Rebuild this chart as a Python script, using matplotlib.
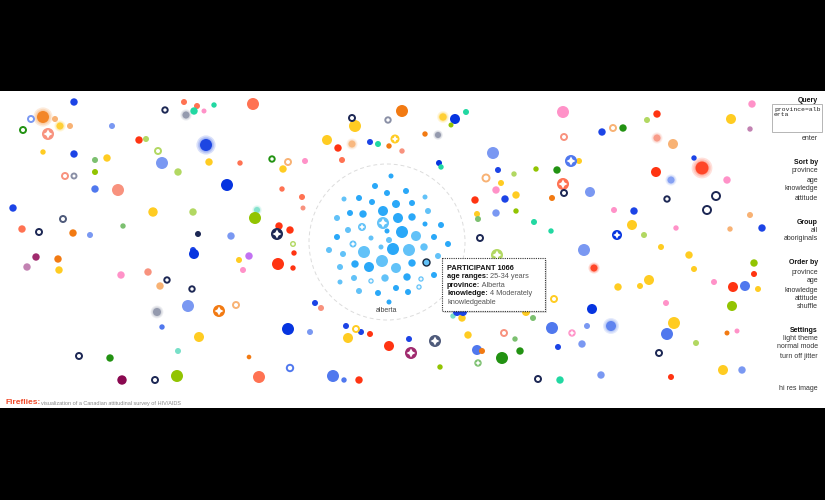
import numpy as np
import matplotlib
matplotlib.use("Agg")
import matplotlib.pyplot as plt
from matplotlib.patches import Rectangle, Circle

plt.rcParams['font.family'] = ['Liberation Sans', 'DejaVu Sans']

# palette (keys used in data below)
pal = {
    "b": "#1c44e6", "db": "#0634e0", "lb": "#7a98f2", "mb": "#5078ee",
    "nv": "#1c2754", "sl": "#4e5a7a", "r": "#ff3412", "co": "#ff7252",
    "sa": "#f8927e", "o": "#f27a12", "lo": "#f8b274", "y": "#ffcc22",
    "g": "#229212", "yg": "#92c402", "lg": "#b2d862", "mg": "#7cc070",
    "t": "#22d8a2", "lt": "#78e0c8", "p": "#ff92c8", "pu": "#a02a6e",
    "mv": "#c282b2", "vi": "#c272f2", "dp": "#8a0850", "gr": "#8a90a6",
    "cb": "#2aa8f8", "cl": "#62c2f8",
}

# plain dots: x, y (px), radius (px), colour key
dot_x = [74, 55, 70, 43, 74, 112, 95, 107, 95, 95, 118, 13, 22, 73, 90, 123, 153, 139, 146, 162,
         178, 184, 197, 194, 204, 214, 253, 209, 240, 227, 193, 255, 198, 231, 279, 290, 283, 282, 193,
         36, 27, 58, 59, 121, 148, 160, 194, 188, 162, 199, 239, 249, 243, 278, 294, 293, 288, 178,
         110, 122, 177, 249, 259,
         355, 327, 338, 342, 305, 402, 370, 378, 389, 402, 425, 455, 451, 466, 439, 441, 302, 303,
         493, 498, 514, 501, 496, 516, 505, 475, 496, 477, 478, 516, 536, 557, 579, 563, 552, 590,
         534, 551, 602, 623, 647, 657, 673, 694, 656, 727, 731, 752, 750, 614, 634, 632, 644, 676,
         730, 750, 661, 584, 762, 754, 754, 745, 758, 742,
         689, 694, 618, 640, 649, 714, 733, 666, 732, 592, 533, 526, 552, 587, 582, 558, 674, 667,
         727, 737, 696, 723, 671, 601, 560, 502, 520, 515, 477, 482, 468, 462, 453, 457, 463, 409,
         389, 440, 370, 361, 348, 346, 315, 321, 310, 333, 344, 359]
dot_y = [102, 119, 126, 152, 154, 126, 160, 158, 172, 189, 190, 208, 229, 233, 235, 226, 212, 140, 139, 163,
         172, 102, 106, 111, 111, 105, 104, 162, 163, 185, 212, 218, 234, 236, 226, 230, 169, 189, 250,
         257, 267, 259, 270, 275, 272, 286, 254, 306, 327, 337, 260, 256, 270, 264, 253, 268, 329, 351,
         358, 380, 376, 357, 377,
         126, 140, 148, 160, 161, 111, 142, 144, 146, 151, 134, 119, 125, 112, 163, 167, 197, 208,
         153, 170, 174, 183, 190, 195, 199, 200, 213, 214, 219, 211, 169, 170, 161, 112, 198, 192,
         222, 231, 132, 128, 120, 114, 144, 158, 172, 180, 119, 104, 129, 210, 211, 225, 235, 228,
         229, 215, 247, 250, 228, 263, 274, 286, 289, 370,
         255, 269, 287, 286, 280, 282, 287, 303, 306, 309, 318, 312, 328, 326, 344, 347, 323, 334,
         333, 331, 343, 370, 377, 375, 380, 358, 351, 339, 350, 351, 335, 318, 316, 312, 312, 339,
         346, 367, 334, 332, 338, 326, 303, 308, 332, 376, 380, 380]
dot_r = [3.7, 3, 3, 2.7, 3.7, 3, 3, 3.7, 3, 3.7, 6, 3.7, 3.7, 3.7, 3, 2.7, 4.7, 3.7, 3, 6,
         3.7, 3, 3, 3.7, 2.5, 2.7, 6, 3.7, 2.7, 6, 3.7, 6, 3, 3.7, 3.7, 3.7, 3.7, 2.7, 3,
         3.7, 3.7, 3.7, 3.7, 3.7, 3.7, 3.7, 5, 6, 2.7, 5, 3, 3.7, 3, 6, 2.7, 2.7, 6, 3,
         3.7, 4.7, 6, 2.3, 6,
         6, 5, 3.7, 3, 3, 6, 3, 3, 2.7, 2.7, 2.7, 5, 2.5, 3, 3, 2.7, 3, 2.5,
         6, 3, 2.7, 3, 3.7, 3.7, 3.7, 3.7, 3.7, 3, 3, 2.7, 2.7, 3.7, 3, 6, 3, 5,
         3, 2.7, 3.7, 3.7, 3, 3.7, 5, 2.7, 5, 3.7, 5, 3.7, 2.7, 3, 3.7, 5, 3, 2.7,
         2.7, 3, 3, 6, 3.7, 3.7, 3, 5, 3, 3.7,
         3.7, 3, 3.7, 3, 5, 3, 5, 3, 5, 5, 3, 4, 6, 3, 3.7, 3, 6, 6,
         2.5, 2.5, 3, 5, 3, 3.7, 3.7, 6, 3.7, 2.7, 5, 3, 3.7, 3.7, 2.7, 4, 4, 3,
         5, 2.7, 3, 3, 5, 3, 3, 3, 3, 6, 2.7, 3.7]
dot_c = ["b", "lo", "lo", "y", "b", "lb", "mg", "y", "yg", "mb", "sa", "b", "co", "o", "lb", "mg", "y", "r", "lg", "lb",
         "lg", "co", "co", "t", "p", "t", "co", "y", "co", "db", "lg", "yg", "nv", "lb", "r", "r", "y", "co", "b",
         "pu", "mv", "o", "y", "p", "sa", "lo", "db", "lb", "mb", "y", "y", "vi", "p", "r", "r", "r", "db", "lt",
         "g", "dp", "yg", "o", "co",
         "y", "y", "r", "co", "p", "o", "b", "t", "o", "sa", "o", "db", "yg", "t", "db", "t", "co", "sa",
         "lb", "b", "lg", "y", "p", "y", "b", "r", "lb", "y", "mg", "yg", "yg", "g", "y", "p", "o", "lb",
         "t", "t", "b", "g", "lg", "r", "lo", "b", "r", "p", "y", "p", "mv", "p", "b", "y", "lg", "p",
         "lo", "lo", "y", "lb", "b", "yg", "r", "mb", "y", "lb",
         "y", "y", "y", "y", "y", "p", "r", "p", "yg", "db", "mg", "y", "mb", "lb", "lb", "b", "y", "mb",
         "o", "p", "lg", "y", "r", "lb", "t", "g", "g", "mg", "mb", "o", "y", "y", "lt", "b", "b", "b",
         "r", "yg", "r", "b", "y", "b", "b", "sa", "lb", "mb", "mb", "r"]

# dots carrying a white sparkle
star_x = [48, 277, 293, 219, 395, 571, 563, 617, 497, 572, 478, 435, 411]
star_y = [134, 234, 244, 311, 139, 161, 184, 235, 255, 333, 363, 341, 353]
star_r = [6, 6, 3, 6, 4.5, 6, 6, 5, 6, 3.7, 3.7, 6, 6]
star_c = ["sa", "nv", "lg", "o", "y", "mb", "co", "db", "lg", "p", "mg", "sl", "pu"]

# small hollow rings
ring_x = [31, 23, 65, 74, 63, 39, 158, 165, 272, 288, 167, 192, 236, 79, 155, 290, 352, 388,
          486, 480, 564, 564, 613, 667, 716, 707, 554, 504, 538, 659, 356]
ring_y = [119, 130, 176, 176, 219, 232, 151, 110, 159, 162, 280, 289, 305, 356, 380, 368, 118, 120,
          178, 238, 137, 193, 128, 199, 196, 210, 299, 333, 379, 353, 329]
ring_r = [3, 3, 3, 2.5, 3, 3, 3, 2.7, 2.7, 3, 2.7, 2.7, 3, 3, 3, 3.2, 3, 2.7,
          3.5, 3, 3, 3, 3, 2.7, 4, 4, 3, 3, 3, 3, 3]
ring_c = ["lb", "g", "sa", "gr", "sl", "nv", "lg", "nv", "g", "lo", "nv", "nv", "lo", "nv", "nv", "mb", "nv", "gr",
          "lo", "nv", "sa", "nv", "lo", "nv", "nv", "nv", "y", "sa", "nv", "nv", "y"]

# blurred (glowing) dots
glow_x = [43, 60, 186, 206, 257, 157, 352, 438, 443, 657, 702, 671, 594, 611]
glow_y = [117, 126, 115, 145, 210, 312, 144, 135, 117, 138, 168, 180, 268, 326]
glow_r = [6, 3.5, 3.5, 6, 3, 4, 3.5, 3, 3.7, 3.5, 6.5, 3.5, 3.5, 5]
glow_c = ["o", "y", "gr", "db", "lt", "gr", "lo", "gr", "y", "sa", "r", "lb", "r", "mb"]

# alberta cluster
cl_x = [391, 375, 387, 406, 344, 359, 372, 396, 412, 425, 383, 428, 350, 363, 398, 412, 337, 425, 441,
        348, 402, 416, 387, 434, 337, 371, 389, 448, 424, 381, 364, 393, 409, 329, 343, 438, 355, 382,
        369, 396, 412, 340, 354, 385, 407, 434, 340, 396, 359, 378, 408, 389]
cl_y = [176, 186, 193, 191, 199, 198, 202, 204, 203, 197, 211, 211, 213, 214, 218, 217, 218, 224, 225,
        230, 232, 236, 231, 237, 237, 238, 240, 244, 247, 247, 252, 249, 250, 250, 254, 256, 264, 261,
        267, 268, 263, 267, 278, 278, 277, 275, 282, 288, 291, 293, 292, 302]
cl_r = [2.5, 3, 3, 3, 2.5, 3, 3, 4, 3, 2.5, 5, 3, 3, 3.7, 5, 3.7, 3, 2.5, 3,
        3, 6, 5, 2.5, 3, 3, 2.5, 3, 3, 3.7, 2.5, 6, 6, 6, 3, 3, 3, 3.7, 6,
        5, 5, 3.7, 3, 3, 3.7, 3.7, 3, 2.5, 3, 3, 3, 3, 2.5]
cl_c = ["cb", "cb", "cb", "cb", "cl", "cb", "cb", "cb", "cb", "cl", "cb", "cl", "cb", "cb", "cb", "cb", "cl", "cb", "cb",
        "cl", "cb", "cl", "cb", "cb", "cb", "cl", "cl", "cb", "cl", "cl", "cl", "cb", "cl", "cl", "cl", "cl", "cb", "cl",
        "cb", "cl", "cb", "cl", "cl", "cl", "cb", "cb", "cl", "cb", "cl", "cb", "cb", "cb"]
cl_star_x = [383, 362, 353, 421, 371, 419]
cl_star_y = [223, 227, 244, 279, 281, 287]
cl_star_r = [6, 4, 3.5, 2.7, 2.7, 2.7]
selected = (426, 262)

tip_lines = [("PARTICIPANT 1066", ""), ("age ranges:", " 25-34 years"), ("province:", " Alberta"),
             ("knowledge:", " 4 Moderately"), ("", "knowledgeable")]

panel = [("Query", True, 100), ("enter", False, 139),
         ("Sort by", True, 162), ("province", False, 171), ("age", False, 180), ("knowledge", False, 189), ("attitude", False, 198),
         ("Group", True, 222), ("all", False, 230), ("aboriginals", False, 239),
         ("Order by", True, 263), ("province", False, 272), ("age", False, 281), ("knowledge", False, 290),
         ("attitude", False, 298), ("shuffle", False, 307),
         ("Settings", True, 330), ("light theme", False, 339), ("normal mode", False, 347), ("turn off jitter", False, 356),
         ("hi res image", False, 389)]

W, H = 825, 500
fig = plt.figure(figsize=(W / 100, H / 100), dpi=100, facecolor="black")
ax = fig.add_axes([0, 0, 1, 1])
ax.set_xlim(0, W)
ax.set_ylim(H, 0)
ax.axis("off")
ax.add_patch(Rectangle((0, 91), W, 317, facecolor="white", edgecolor="none", zorder=0))

PT = 72 / 100  # points per pixel


def sz(r):
    return (2 * np.asarray(r, dtype=float) * PT) ** 2


def cols(keys):
    return [pal[k] for k in keys]


# glow halos
for k in [1.6, 1.35, 1.15]:
    ax.scatter(glow_x, glow_y, s=sz(np.array(glow_r) * k), c=cols(glow_c), alpha=0.15, linewidths=0, zorder=2)
ax.scatter(glow_x, glow_y, s=sz(glow_r), c=cols(glow_c), alpha=0.85, linewidths=0, zorder=3)

ax.scatter(dot_x, dot_y, s=sz(dot_r), c=cols(dot_c), linewidths=0, zorder=3)

ax.scatter(star_x, star_y, s=sz(star_r), c=cols(star_c), linewidths=0, zorder=4)
ax.scatter(star_x, star_y, s=sz(np.array(star_r) * 0.75), c="white", marker=(4, 1, 0), linewidths=0, zorder=5)

ax.scatter(ring_x, ring_y, s=sz(ring_r), c="white", edgecolors=cols(ring_c), linewidths=1.4, zorder=4)

# cluster
ax.add_patch(Circle((387, 242), 78, fill=False, edgecolor="#dcdcdc", linestyle=(0, (4, 3)), linewidth=0.7, zorder=1))
ax.scatter(cl_x, cl_y, s=sz(cl_r), c=cols(cl_c), linewidths=0, zorder=3)
ax.scatter(cl_star_x, cl_star_y, s=sz(cl_star_r), c=pal["cl"], linewidths=0, zorder=4)
ax.scatter(cl_star_x, cl_star_y, s=sz(np.array(cl_star_r) * 0.75), c="white", marker=(4, 1, 0), linewidths=0, zorder=5)
ax.scatter([selected[0]], [selected[1]], s=sz(3.5), c=pal["cl"], edgecolors="#1a2a40", linewidths=1.0, zorder=5)
ax.text(387, 311, "alberta", fontsize=5, color="#444444", ha="center", va="center", zorder=5)

# tooltip
ax.add_patch(Rectangle((444, 260), 103, 53, facecolor="#000000", alpha=0.12, edgecolor="none", zorder=6))
ax.add_patch(Rectangle((442, 258), 103, 53, facecolor="white", edgecolor="#333333",
                       linestyle=(0, (1, 1)), linewidth=0.8, zorder=7))
for i, (b, rest) in enumerate(tip_lines):
    yy = 268 + i * 8.6
    t = ax.text(447, yy, b, fontsize=5.3, fontweight="bold", color="#111111", va="center", zorder=8)
    if rest:
        fig.canvas.draw()
        bb = t.get_window_extent().transformed(ax.transData.inverted()) if b else None
        x0 = bb.x1 if bb is not None else 447
        ax.text(x0, yy, rest, fontsize=5.3, color="#555555", va="center", zorder=8)

# right panel
for label, bold, yy in panel:
    ax.text(818, yy, label, fontsize=5, ha="right", va="center", zorder=8,
            fontweight="bold" if bold else "normal", color="#111111" if bold else "#333333")
ax.add_patch(Rectangle((772, 104), 50, 28, facecolor="white", edgecolor="#aaaaaa", linewidth=0.6, zorder=7))
ax.text(774, 107, "province=alb\nerta", fontsize=4.6, family="Liberation Mono", color="#222222",
        va="top", ha="left", linespacing=1.1, zorder=8)

# title
ax.text(5, 402.5, "Fireflies:", fontsize=6, fontweight="bold", color="#f04a2a", va="center", zorder=8)
ax.text(41, 403, "visualization of a Canadian attitudinal survey of HIV/AIDS", fontsize=4, color="#8a8a8a",
        va="center", zorder=8)

fig.savefig("out.png", dpi=100, facecolor="black")
